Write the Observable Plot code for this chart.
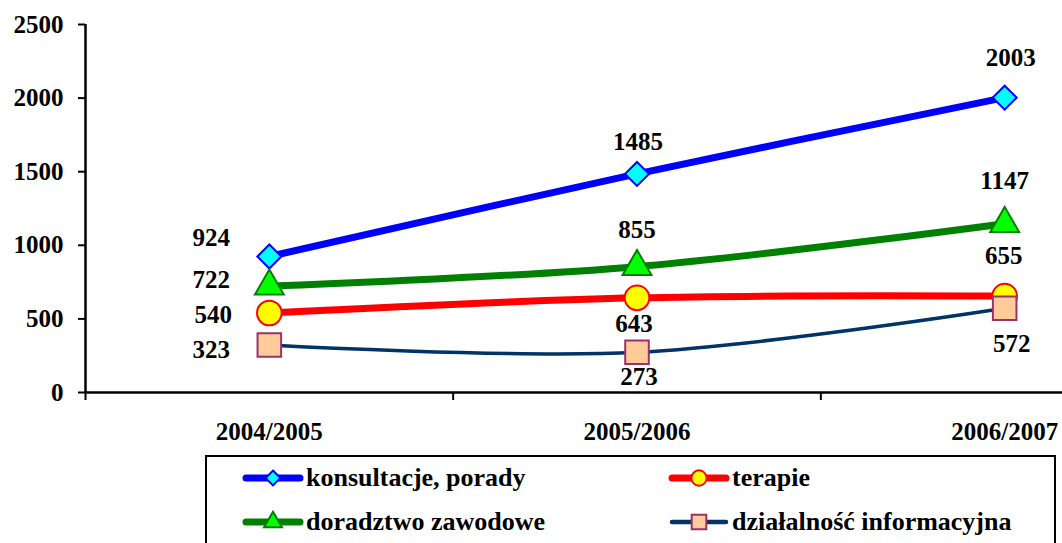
<!DOCTYPE html>
<html><head><meta charset="utf-8">
<script src="https://cdn.jsdelivr.net/npm/d3@7"></script>
<script src="https://cdn.jsdelivr.net/npm/@observablehq/plot@0.6"></script>
<style>
html,body{margin:0;padding:0;background:#fff;overflow:hidden;width:1062px;height:543px;}
#chart{position:absolute;left:0;top:0;}
#legend{position:absolute;left:205px;top:455px;width:851px;height:130px;border:2px solid #000;box-sizing:border-box;font-family:"Liberation Serif","Times New Roman","DejaVu Serif Condensed","DejaVu Serif",serif;font-weight:bold;font-size:26px;color:#000;background:#fff;}
.item{position:absolute;display:flex;align-items:center;height:30px;white-space:nowrap;}
.item svg{display:block;margin-right:2px;}
</style></head><body><div id="chart"></div><div id="legend"></div>
<script>
// ---- data ----
const years = ["2004/2005", "2005/2006", "2006/2007"];
const konsultacje = [924, 1485, 2003];
const terapie = [540, 643, 655];
const doradztwo = [722, 855, 1147];
const informacyjna = [323, 273, 572];
const seriesNames = ["konsultacje, porady", "terapie", "doradztwo zawodowe", "działalność informacyjna"];
const yTicks = [0, 500, 1000, 1500, 2000, 2500];

// ---- styles (not data) ----
const FONT = '"Liberation Serif", "Times New Roman", "DejaVu Serif Condensed", "DejaVu Serif", serif';
const series = [
  {name: seriesNames[0], values: konsultacje, stroke: "#0000FF", sw: 7, symbol: "diamond2", r: 10.8, fill: "#00FFFF", ms: "#0000FF",
   lab: [[-58, -18], [1, -32], [6, -40]]},
  {name: seriesNames[1], values: terapie, stroke: "#FF0000", sw: 7, symbol: "circle", r: 12.3, fill: "#FFFF00", ms: "#FF0000",
   lab: [[-56, 2], [-3, 26], [-1, -40]]},
  {name: seriesNames[2], values: doradztwo, stroke: "#008000", sw: 7, symbol: "triangle", r: 10.7, fill: "#00FF00", ms: "#008000",
   lab: [[-58, -6], [0, -37], [0, -43]]},
  {name: seriesNames[3], values: informacyjna, stroke: "#003366", sw: 3.5, symbol: "square", r: 13.3, fill: "#FFCC99", ms: "#993366",
   lab: [[-58, 5], [2, 25], [7, 36]]}
];

const font = {fontFamily: FONT, fontWeight: "bold", fontSize: 25, fill: "#000"};
const xOf = d => years.indexOf(d.year) + 0.5;

const marks = [];
for (const s of series) {
  const rows = years.map((year, i) => ({year, value: s.values[i]}));
  marks.push(Plot.line(rows, {x: xOf, y: "value", stroke: s.stroke, strokeWidth: s.sw, curve: "catmull-rom", strokeLinecap: "round", strokeLinejoin: "round"}));
}
for (const s of series) {
  const rows = years.map((year, i) => ({year, value: s.values[i]}));
  marks.push(Plot.dot(rows, {x: xOf, y: "value", symbol: s.symbol, r: s.r, fill: s.fill, stroke: s.ms, strokeWidth: 2}));
}
for (const s of series) {
  years.forEach((year, i) => {
    marks.push(Plot.text([{year, value: s.values[i]}], {x: xOf, y: "value", text: d => String(d.value),
      dx: s.lab[i][0], dy: s.lab[i][1], ...font}));
  });
}

const chart = Plot.plot({
  width: 1062,
  height: 450,
  marginTop: 24,
  marginBottom: 58,
  marginLeft: 85,
  marginRight: 0,
  style: {fontFamily: FONT, fontSize: "25px", fontWeight: "bold", color: "#000", background: "transparent", overflow: "visible"},
  x: {type: "linear", domain: [0, 3], range: [85, 1188]},
  y: {domain: [0, 2500]},
  marks: [
    Plot.axisY({ticks: yTicks, tickSize: 7, tickPadding: 15, tickFormat: d => String(d), strokeWidth: 2, fontSize: 25, fontWeight: "bold", fontFamily: FONT, label: null}),
    Plot.axisX({ticks: [0, 1, 2, 3], tickSize: 8, tickFormat: () => "", strokeWidth: 2, label: null}),
    Plot.axisX({ticks: years.map((_, i) => i + 0.5), tickSize: 0, tickPadding: 30, tickFormat: v => years[Math.round(v - 0.5)], fontSize: 25, fontWeight: "bold", fontFamily: FONT, label: null}),
    Plot.ruleX([0], {stroke: "#000", strokeWidth: 2.5}),
    Plot.ruleY([0], {stroke: "#000", strokeWidth: 2.5}),
    ...marks
  ]
});
document.getElementById("chart").appendChild(chart);

// ---- legend ----
function symbolPath(sym, size) {
  const map = {diamond2: d3.symbolDiamond2, circle: d3.symbolCircle, triangle: d3.symbolTriangle, square: d3.symbolSquare};
  return d3.symbol(map[sym], size)();
}
const legend = document.getElementById("legend");
const pos = [[35, 6], [461, 6], [35, 50], [461, 50]];
series.forEach((s, k) => {
  const div = document.createElement("div");
  div.className = "item";
  div.style.left = pos[k][0] + "px";
  div.style.top = pos[k][1] + "px";
  const r = s.r * 0.62;
  const size = Math.PI * r * r;
  div.innerHTML = `<svg width="62" height="30" viewBox="0 0 62 30">
    <line x1="4" x2="58" y1="15" y2="15" stroke="${s.stroke}" stroke-width="${s.sw === 7 ? 7 : 4.5}" stroke-linecap="round"/>
    <path d="${symbolPath(s.symbol, size)}" transform="translate(31,15)" fill="${s.fill}" stroke="${s.ms}" stroke-width="2"/>
  </svg><span>${s.name}</span>`;
  legend.appendChild(div);
});
</script>
</body></html>
